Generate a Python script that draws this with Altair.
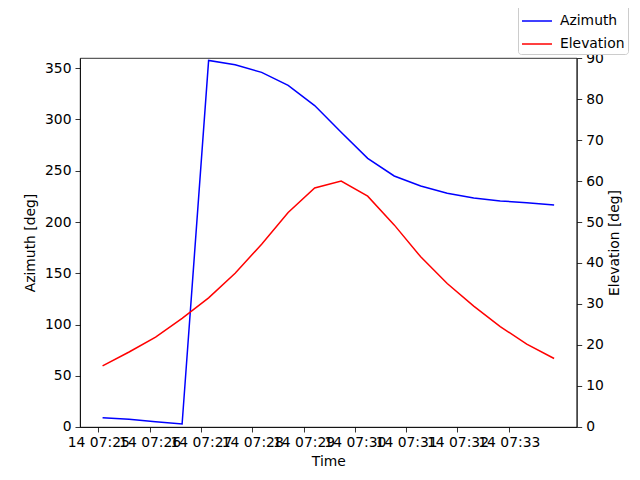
import altair as alt
import pandas as pd

day = "2024-03-14"
times = ["07:25:05", "07:25:36", "07:26:07", "07:26:38", "07:27:09", "07:27:40",
         "07:28:11", "07:28:42", "07:29:13", "07:29:44", "07:30:15", "07:30:46",
         "07:31:17", "07:31:48", "07:32:19", "07:32:50", "07:33:21", "07:33:53"]
azimuth = [9.0, 7.5, 5.2, 2.9, 357.6, 353.4, 346.0, 333.3, 313.6, 287.5, 262.1, 244.9,
           235.2, 228.1, 223.5, 220.6, 218.7, 216.7]
elevation = [14.9, 18.3, 21.9, 26.5, 31.5, 37.5, 44.6, 52.3, 58.3, 60.0, 56.3, 49.3,
             41.5, 35.0, 29.5, 24.5, 20.2, 16.7]
tick_minutes = [25, 26, 27, 28, 29, 30, 31, 32, 33]
az_ticks = [0, 50, 100, 150, 200, 250, 300, 350]
el_ticks = [0, 10, 20, 30, 40, 50, 60, 70, 80, 90]

df = pd.DataFrame({"time": [f"{day}T{t}" for t in times],
                   "Azimuth": azimuth, "Elevation": elevation})
long = df.melt(id_vars="time", var_name="series", value_name="deg")

FONT = "DejaVu Sans"
FS = 13.9


def dt(m, s=0, ms=0):
    return alt.DateTime(year=2024, month=3, date=14, hours=7, minutes=m, seconds=s, milliseconds=ms)


xenc = alt.X(
    "time:T", title="Time",
    scale=alt.Scale(domain=[dt(24, 38, 600), dt(34, 19, 400)]),
    axis=alt.Axis(values=[dt(m) for m in tick_minutes], format="%d %H:%M",
                  labelOverlap=False, labelFlush=False, grid=False, titlePadding=5),
)

color = alt.Color(
    "series:N",
    scale=alt.Scale(domain=["Azimuth", "Elevation"], range=["#0000ff", "#ff0000"]),
    legend=alt.Legend(title=None, orient="none", legendX=438, legendY=-56,
                      symbolType="stroke", symbolSize=900, symbolStrokeWidth=1.5,
                      labelFont=FONT, labelFontSize=FS, labelColor="black",
                      strokeColor="#cccccc", fillColor="white", cornerRadius=3,
                      padding=3, rowPadding=-11, labelOffset=7),
)

az = alt.Chart(long).transform_filter("datum.series == 'Azimuth'").mark_line(strokeWidth=1.5).encode(
    x=xenc,
    y=alt.Y("deg:Q", title="Azimuth [deg]",
            scale=alt.Scale(domain=[0, 360], nice=False, zero=True),
            axis=alt.Axis(values=az_ticks, orient="left", grid=False, titlePadding=7)),
    color=color,
)

el = alt.Chart(long).transform_filter("datum.series == 'Elevation'").mark_line(strokeWidth=1.5).encode(
    x=xenc,
    y=alt.Y("deg:Q", title="Elevation [deg]",
            scale=alt.Scale(domain=[0, 90], nice=False, zero=True),
            axis=alt.Axis(values=el_ticks, orient="right", grid=False, titleAngle=270,
                          titleBaseline="top", titlePadding=4)),
    color=color,
)

chart = alt.layer(az, el).resolve_scale(y="independent").properties(
    width=496.7, height=369,
    autosize=alt.AutoSizeParams(type="none"),
    padding={"left": 72, "top": 50, "right": 54, "bottom": 44},
).configure_view(
    stroke="black", strokeWidth=0.8
).configure_axis(
    labelFont=FONT, titleFont=FONT, labelFontSize=FS, titleFontSize=FS,
    labelColor="black", titleColor="black", titleFontWeight="normal",
    tickColor="black", domainColor="black", tickSize=5, tickWidth=0.8,
    domainWidth=0.8, labelPadding=4,
)

chart.save("out.html", embed_options={"renderer": "svg", "actions": False})
